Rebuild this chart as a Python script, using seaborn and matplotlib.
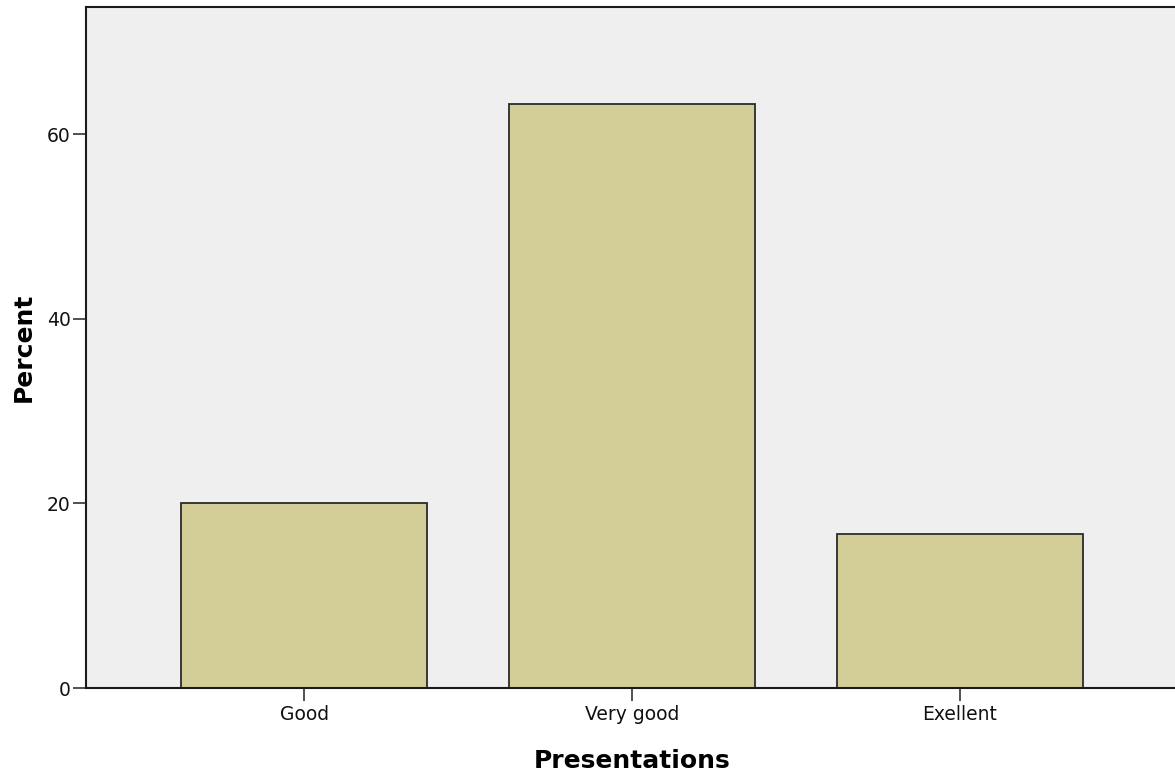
import matplotlib
matplotlib.use("Agg")
import matplotlib.pyplot as plt
import seaborn as sns
import pandas as pd

# data
categories = ["Good", "Very good", "Exellent"]
percent = [20.0, 63.3, 16.7]

df = pd.DataFrame({"Presentations": categories, "Percent": percent})

sns.set_style("white")
plt.rcParams["font.family"] = ["DejaVu Sans"]

fig = plt.figure(figsize=(11.75, 7.83), dpi=100)
ax = fig.add_axes([86 / 1175, 95 / 783, 1092 / 1175, 681 / 783])
ax.set_facecolor("#efefef")

sns.barplot(data=df, x="Presentations", y="Percent", ax=ax, color="#d3ce97",
            saturation=1, width=0.75, edgecolor="#2b2b2b", linewidth=1.3)

ax.set_xlim(-0.665, 2.665)
ax.set_ylim(0, 73.76)
ax.set_yticks([0, 20, 40, 60])

for s in ["left", "bottom", "top"]:
    ax.spines[s].set_visible(True)
    ax.spines[s].set_color("#1a1a1a")
    ax.spines[s].set_linewidth(1.5)
ax.spines["right"].set_visible(False)

ax.tick_params(axis="y", direction="out", length=9.5, width=1.2, color="#333333",
               labelsize=13.5, pad=1.5, left=True, labelcolor="#111111")
ax.tick_params(axis="x", direction="out", length=9.5, width=1.2, color="#333333",
               labelsize=13.5, pad=3, bottom=True, labelcolor="#111111")

ax.set_xlabel("Presentations", fontsize=18, fontweight="bold", labelpad=18,
              color="black")
ax.set_ylabel("Percent", fontsize=18, fontweight="bold", labelpad=8,
              color="black")

fig.savefig("out.png", dpi=100)
